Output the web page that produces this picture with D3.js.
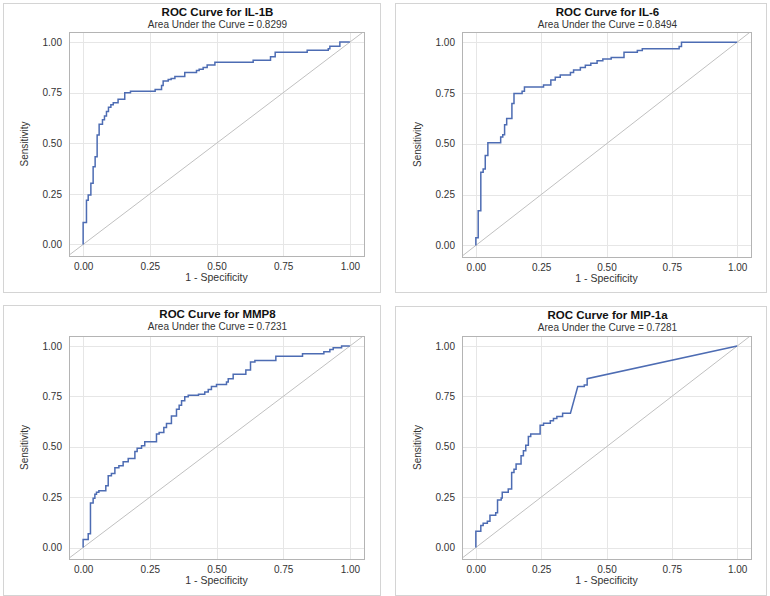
<!DOCTYPE html>
<html>
<head>
<meta charset="utf-8">
<script src="https://cdn.jsdelivr.net/npm/d3@7"></script>
<style>
  html, body { margin: 0; padding: 0; background: #ffffff; }
  svg { display: block; }
  text { font-family: "Liberation Sans", Arial, sans-serif; }
</style>
</head>
<body>
<svg id="chart" width="770" height="596"></svg>
<script>
// ---------------- DATA ----------------
const markers = ["IL-1B", "IL-6", "MMP8", "MIP-1a"];
const aucValues = ["0.8299", "0.8494", "0.7231", "0.7281"];
const tickValues = [0, 0.25, 0.5, 0.75, 1];
const tickLabels = ["0.00", "0.25", "0.50", "0.75", "1.00"];
const xTitle = "1 - Specificity";
const yTitle = "Sensitivity";

// ROC vertices: [1 - specificity, sensitivity]
const rocIL1B = [
  [0,0],[0,0.109],[0.0125,0.109],[0.0125,0.219],[0.019,0.219],[0.019,0.244],[0.029,0.244],[0.029,0.302],
  [0.0375,0.302],[0.0375,0.384],[0.045,0.384],[0.045,0.434],[0.0525,0.434],[0.0525,0.541],[0.06,0.541],
  [0.06,0.594],[0.0725,0.594],[0.0725,0.616],[0.08,0.616],[0.08,0.635],[0.0875,0.635],[0.0875,0.657],
  [0.095,0.657],[0.095,0.678],[0.104,0.678],[0.104,0.69],[0.113,0.69],[0.113,0.70],[0.131,0.70],
  [0.131,0.718],[0.156,0.718],[0.156,0.75],[0.1775,0.75],[0.1775,0.757],[0.27,0.757],[0.27,0.766],
  [0.294,0.766],[0.294,0.785],[0.30,0.785],[0.30,0.808],[0.319,0.808],[0.319,0.815],[0.33,0.815],
  [0.33,0.82],[0.344,0.82],[0.344,0.83],[0.381,0.83],[0.381,0.85],[0.425,0.85],[0.425,0.86],
  [0.435,0.86],[0.435,0.866],[0.45,0.866],[0.45,0.875],[0.465,0.875],[0.465,0.887],[0.494,0.887],
  [0.494,0.90],[0.6375,0.90],[0.6375,0.91],[0.7025,0.91],[0.7025,0.928],[0.72,0.928],[0.72,0.95],
  [0.84,0.95],[0.84,0.96],[0.919,0.96],[0.919,0.967],[0.925,0.967],[0.925,0.98],[0.9625,0.98],
  [0.9625,1],[1,1]
];
const rocIL6 = [
  [0,0],[0,0.038],[0.009,0.038],[0.009,0.17],[0.019,0.17],[0.019,0.36],[0.028,0.36],[0.028,0.376],
  [0.036,0.376],[0.036,0.442],[0.046,0.442],[0.046,0.505],[0.095,0.505],[0.095,0.533],[0.103,0.533],
  [0.103,0.545],[0.11,0.545],[0.11,0.594],[0.118,0.594],[0.118,0.624],[0.138,0.624],[0.138,0.698],
  [0.146,0.698],[0.146,0.748],[0.177,0.748],[0.177,0.759],[0.186,0.759],[0.186,0.779],[0.259,0.779],
  [0.259,0.789],[0.287,0.789],[0.287,0.814],[0.304,0.814],[0.304,0.827],[0.323,0.827],[0.323,0.838],
  [0.362,0.838],[0.362,0.851],[0.374,0.851],[0.374,0.863],[0.40,0.863],[0.40,0.875],[0.419,0.875],
  [0.419,0.886],[0.44,0.886],[0.44,0.896],[0.464,0.896],[0.464,0.909],[0.486,0.909],[0.486,0.917],
  [0.518,0.917],[0.518,0.924],[0.567,0.924],[0.567,0.95],[0.618,0.95],[0.618,0.959],[0.637,0.959],
  [0.637,0.967],[0.778,0.967],[0.778,0.979],[0.787,0.979],[0.787,1],[1,1]
];
const rocMMP8 = [
  [0,0],[0,0.04],[0.019,0.04],[0.019,0.068],[0.0275,0.068],[0.0275,0.221],[0.0375,0.221],[0.0375,0.244],
  [0.044,0.244],[0.044,0.265],[0.05,0.265],[0.05,0.274],[0.059,0.274],[0.059,0.282],[0.085,0.282],
  [0.085,0.307],[0.094,0.307],[0.094,0.356],[0.106,0.356],[0.106,0.368],[0.119,0.368],[0.119,0.396],
  [0.134,0.396],[0.134,0.406],[0.15,0.406],[0.15,0.426],[0.169,0.426],[0.169,0.442],[0.194,0.442],
  [0.194,0.477],[0.2025,0.477],[0.2025,0.493],[0.219,0.493],[0.219,0.505],[0.231,0.505],[0.231,0.525],
  [0.275,0.525],[0.275,0.563],[0.285,0.563],[0.285,0.571],[0.3025,0.571],[0.3025,0.596],[0.3125,0.596],
  [0.3125,0.616],[0.331,0.616],[0.331,0.653],[0.35,0.653],[0.35,0.686],[0.36,0.686],[0.36,0.706],
  [0.369,0.706],[0.369,0.728],[0.381,0.728],[0.381,0.749],[0.394,0.749],[0.394,0.756],[0.4325,0.756],
  [0.4325,0.761],[0.456,0.761],[0.456,0.772],[0.469,0.772],[0.469,0.785],[0.481,0.785],[0.481,0.799],
  [0.50,0.799],[0.50,0.809],[0.5375,0.809],[0.5375,0.822],[0.544,0.822],[0.544,0.838],[0.5625,0.838],
  [0.5625,0.86],[0.61,0.86],[0.61,0.881],[0.6275,0.881],[0.6275,0.921],[0.644,0.921],[0.644,0.929],
  [0.7225,0.929],[0.7225,0.95],[0.8225,0.95],[0.8225,0.962],[0.9025,0.962],[0.9025,0.972],[0.925,0.972],
  [0.925,0.983],[0.9375,0.983],[0.9375,0.992],[0.969,0.992],[0.969,1],[1,1]
];
const rocMIP1a = [
  [0,0],[0,0.081],[0.019,0.081],[0.019,0.109],[0.028,0.109],[0.028,0.12],[0.044,0.12],[0.044,0.13],
  [0.054,0.13],[0.054,0.16],[0.076,0.16],[0.076,0.172],[0.083,0.172],[0.083,0.236],[0.097,0.236],
  [0.097,0.246],[0.101,0.246],[0.101,0.274],[0.124,0.274],[0.124,0.29],[0.137,0.29],[0.137,0.373],
  [0.146,0.373],[0.146,0.389],[0.154,0.389],[0.154,0.414],[0.173,0.414],[0.173,0.455],[0.182,0.455],
  [0.182,0.48],[0.191,0.48],[0.191,0.508],[0.201,0.508],[0.201,0.551],[0.21,0.551],[0.21,0.563],
  [0.246,0.563],[0.246,0.607],[0.259,0.607],[0.259,0.617],[0.285,0.617],[0.285,0.629],[0.297,0.629],
  [0.297,0.64],[0.31,0.64],[0.31,0.65],[0.332,0.65],[0.332,0.667],[0.362,0.667],[0.39,0.799],
  [0.415,0.799],[0.415,0.807],[0.426,0.807],[0.426,0.838],[1,1]
];
const rocSeries = [rocIL1B, rocIL6, rocMMP8, rocMIP1a];

// ---------------- LAYOUT (positions only) ----------------
const layout = [
  { box: [3, 3, 380, 292],   plot: [69, 32, 364, 256] },
  { box: [395, 3, 766, 292], plot: [462, 32, 751, 257] },
  { box: [3, 305, 380, 595], plot: [69, 336, 364, 559] },
  { box: [395, 306, 766, 595], plot: [462, 336, 751, 559] }
];

const svg = d3.select("#chart");
const curveColor = "#4d6cb3";

markers.forEach((name, i) => {
  const L = layout[i];
  const [bx0, by0, bx1, by1] = L.box;
  const [px0, py0, px1, py1] = L.plot;
  const g = svg.append("g");

  // outer panel border
  g.append("rect")
    .attr("x", bx0 + 0.5).attr("y", by0 + 0.5)
    .attr("width", bx1 - bx0).attr("height", by1 - by0)
    .attr("fill", "#fff").attr("stroke", "#d4d4d4").attr("stroke-width", 1);

  const x = d3.scaleLinear().domain([-0.053, 1.053]).range([px0, px1]);
  const y = d3.scaleLinear().domain([-0.057, 1.05]).range([py1, py0]);

  // grid
  g.append("g").selectAll("line.vx").data(tickValues).join("line")
    .attr("x1", d => Math.round(x(d)) + 0.5).attr("x2", d => Math.round(x(d)) + 0.5)
    .attr("y1", py0).attr("y2", py1)
    .attr("stroke", "#e6e6e6").attr("stroke-width", 1);
  g.append("g").selectAll("line.hy").data(tickValues).join("line")
    .attr("y1", d => Math.round(y(d)) + 0.5).attr("y2", d => Math.round(y(d)) + 0.5)
    .attr("x1", px0).attr("x2", px1)
    .attr("stroke", "#e6e6e6").attr("stroke-width", 1);

  // clip
  const clipId = "clip" + i;
  g.append("clipPath").attr("id", clipId).append("rect")
    .attr("x", px0).attr("y", py0).attr("width", px1 - px0).attr("height", py1 - py0);

  // diagonal reference
  g.append("line")
    .attr("clip-path", `url(#${clipId})`)
    .attr("x1", x(-0.2)).attr("y1", y(-0.2)).attr("x2", x(1.2)).attr("y2", y(1.2))
    .attr("stroke", "#c0c0c0").attr("stroke-width", 1);

  // ROC curve
  const line = d3.line().x(d => x(d[0])).y(d => y(d[1]));
  g.append("path").datum(rocSeries[i])
    .attr("d", line)
    .attr("fill", "none").attr("stroke", curveColor).attr("stroke-width", 1.5)
    .attr("stroke-linejoin", "miter");

  // plot frame
  g.append("rect")
    .attr("x", px0 + 0.5).attr("y", py0 + 0.5)
    .attr("width", px1 - px0).attr("height", py1 - py0)
    .attr("fill", "none").attr("stroke", "#b4b4b4").attr("stroke-width", 1);

  // axes (labels only, via d3 axis)
  const xAxis = d3.axisBottom(x).tickValues(tickValues)
    .tickFormat((d, k) => tickLabels[k]).tickSize(0).tickPadding(7);
  const xa = g.append("g").attr("transform", `translate(0,${py1})`).call(xAxis);
  xa.select(".domain").remove();
  xa.selectAll("text").attr("font-size", 10).attr("fill", "#333")
    .attr("font-family", "Liberation Sans, Arial, sans-serif");

  const yAxis = d3.axisLeft(y).tickValues(tickValues)
    .tickFormat((d, k) => tickLabels[k]).tickSize(0).tickPadding(7);
  const ya = g.append("g").attr("transform", `translate(${px0},0)`).call(yAxis);
  ya.select(".domain").remove();
  ya.selectAll("text").attr("font-size", 10).attr("fill", "#333")
    .attr("font-family", "Liberation Sans, Arial, sans-serif");

  const cx = (px0 + px1) / 2;
  // titles
  g.append("text").attr("x", cx + 1).attr("y", by0 + 13)
    .attr("text-anchor", "middle").attr("font-size", 11.5).attr("font-weight", "bold")
    .attr("fill", "#111").text("ROC Curve for " + name);
  g.append("text").attr("x", cx + 1).attr("y", by0 + 24.5)
    .attr("text-anchor", "middle").attr("font-size", 10)
    .attr("fill", "#333").text("Area Under the Curve = " + aucValues[i]);

  // axis titles
  g.append("text").attr("x", cx).attr("y", py1 + 25)
    .attr("text-anchor", "middle").attr("font-size", 10.5)
    .attr("fill", "#333").text(xTitle);
  g.append("text")
    .attr("transform", `translate(${px0 - 41},${(py0 + py1) / 2}) rotate(-90)`)
    .attr("text-anchor", "middle").attr("font-size", 10)
    .attr("font-family", "Liberation Sans Narrow, Liberation Sans, Arial, sans-serif")
    .attr("fill", "#333").text(yTitle);
});
</script>
</body>
</html>
